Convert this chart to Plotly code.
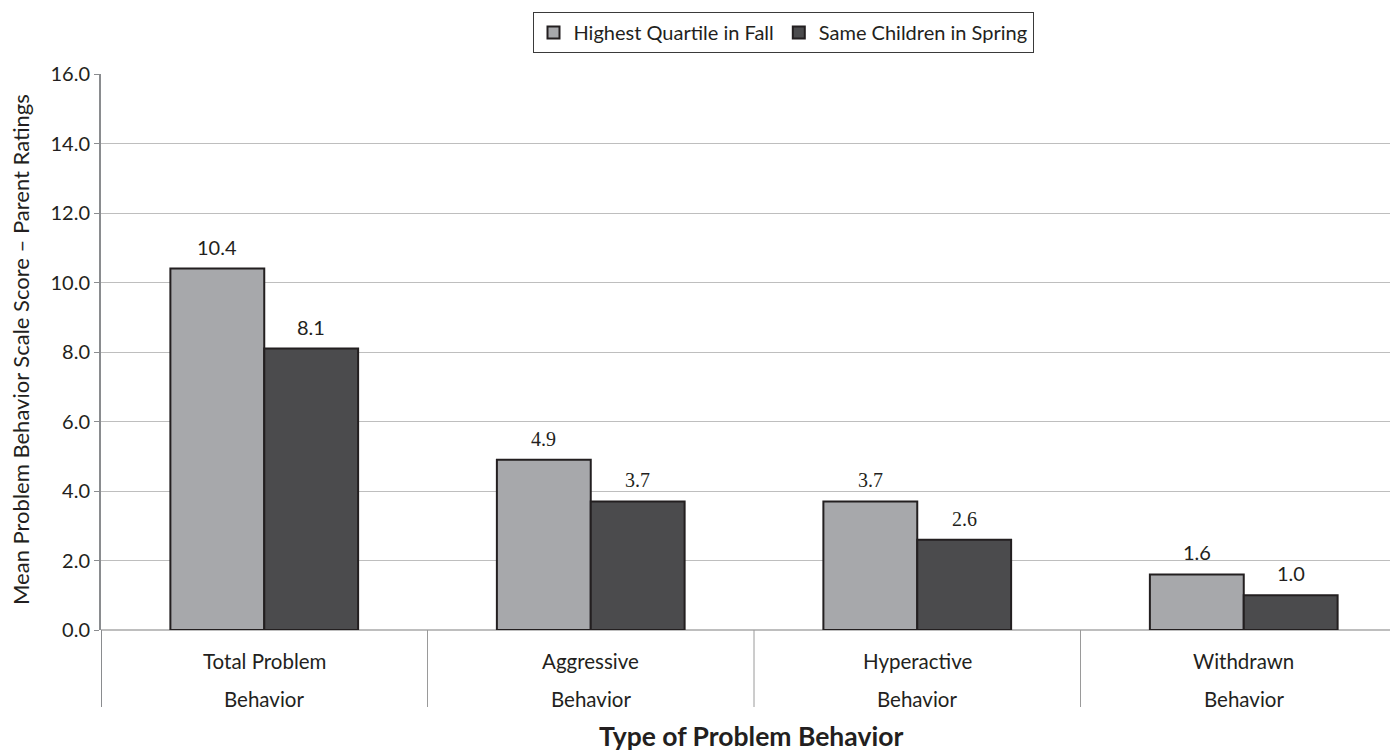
import plotly.graph_objects as go

categories_line1 = ["Total Problem", "Aggressive", "Hyperactive", "Withdrawn"]
categories_line2 = ["Behavior", "Behavior", "Behavior", "Behavior"]
fall_values = [10.4, 4.9, 3.7, 1.6]
spring_values = [8.1, 3.7, 2.6, 1.0]
series_names = ["Highest Quartile in Fall", "Same Children in Spring"]
y_ticks = [0, 2, 4, 6, 8, 10, 12, 14, 16]

FONT = "Lato"
SERIF = "Liberation Serif"
TXT = "#231F20"
label_fonts = [FONT, SERIF, SERIF, FONT]
x_pos = list(range(len(categories_line1)))
BARGAP = 0.425
half = (1 - BARGAP) / 4  # offset of each bar centre within its group

PW = 1297.0  # plot width px
PH = 556.0   # plot height px

fig = go.Figure()
fig.add_trace(go.Bar(
    x=x_pos, y=fall_values, name=series_names[0],
    marker=dict(color="#A7A8AB", line=dict(color="#231F20", width=2)),
))
fig.add_trace(go.Bar(
    x=x_pos, y=spring_values, name=series_names[1],
    marker=dict(color="#4B4B4D", line=dict(color="#231F20", width=2)),
))

# value labels above bars
for vals, sign in [(fall_values, -1), (spring_values, 1)]:
    for i, v in zip(x_pos, vals):
        fig.add_annotation(x=i + sign * half, y=v, xref="x", yref="y",
                           text=f"{v:.1f}", showarrow=False, yanchor="bottom",
                           yshift=8,
                           font=dict(family=label_fonts[i], size=20, color=TXT))

# category labels (two lines, wide spacing)
for i in x_pos:
    fig.add_annotation(x=i, y=0, xref="x", yref="y", text=categories_line1[i],
                       showarrow=False, yanchor="middle", yshift=-31,
                       font=dict(family=FONT, size=20.5, color=TXT))
    fig.add_annotation(x=i, y=0, xref="x", yref="y", text=categories_line2[i],
                       showarrow=False, yanchor="middle", yshift=-69,
                       font=dict(family=FONT, size=20.5, color=TXT))

# category divider ticks and left axis extension
for b in [-0.5, 0.5, 1.5, 2.5]:
    fig.add_shape(type="line", xref="x", yref="paper", x0=b, x1=b, y0=0, y1=-77 / PH,
                  line=dict(color="#9A9A9A" if b > -0.5 else "#8A8C8F",
                            width=1 if b > -0.5 else 2))

fig.add_annotation(xref="paper", yref="paper", x=(751 - 101) / PW, y=-106 / PH,
                   text="<b>Type of Problem Behavior</b>", showarrow=False,
                   yanchor="middle", font=dict(family=FONT, size=26.5, color=TXT))

fig.add_annotation(xref="paper", yref="paper", x=(20 - 101) / PW, y=(630 - 350) / PH,
                   text="Mean Problem Behavior Scale Score \u2013 Parent Ratings",
                   textangle=-90, showarrow=False, xanchor="center", yanchor="middle",
                   borderpad=0, font=dict(family=FONT, size=22, color=TXT))

fig.update_layout(
    width=1390, height=745,
    margin=dict(l=93, r=0, t=66, b=123, autoexpand=False),
    paper_bgcolor="white", plot_bgcolor="white",
    barmode="group", bargap=BARGAP, bargroupgap=0,
    font=dict(family=FONT, size=20, color=TXT),
    showlegend=True,
    legend=dict(orientation="h", x=(783 - 101) / PW, xanchor="center",
                y=1 + (74 - 12) / PH, yanchor="top",
                bordercolor="#3A3A3A", borderwidth=1, bgcolor="white",
                font=dict(family=FONT, size=20, color=TXT),
                itemwidth=30, tracegroupgap=0),
    xaxis=dict(range=[-0.5, -0.5 + PW / 326.5], showticklabels=False,
               showgrid=False, zeroline=False, showline=False, ticks="",
               automargin=False),
    yaxis=dict(range=[0, 16], tickvals=y_ticks, ticktext=[f"{v:.1f}" for v in y_ticks],
               showgrid=True, gridcolor="#BEBEBE", gridwidth=1,
               zeroline=True, zerolinecolor="#BEBEBE", zerolinewidth=2,
               showline=True, linecolor="#8A8C8F", linewidth=2,
               ticks="outside", ticklen=5, tickcolor="#8A8C8F",
               tickfont=dict(family=FONT, size=20, color=TXT),
               automargin=False),
)

fig.write_html("out.html")
